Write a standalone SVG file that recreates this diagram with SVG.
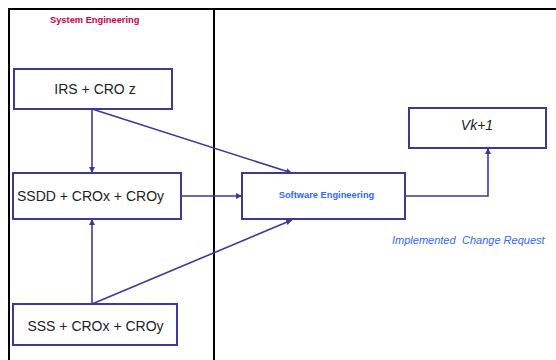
<svg xmlns="http://www.w3.org/2000/svg" width="556" height="360" viewBox="0 0 556 360">
  <style>
    .frame { stroke: #000; stroke-width: 2; fill: none; }
    .box { fill: #fff; stroke: #3a3a9a; stroke-width: 2; }
    .link { fill: none; stroke: #3a3a9a; stroke-width: 1.6; marker-end: url(#arrow); }
    .label { font-family: "Liberation Sans", Arial, sans-serif; font-size: 14px; fill: #222; }
    .title { font-family: "Liberation Sans", Arial, sans-serif; font-size: 9.3px; font-weight: bold; }
  </style>
  <defs>
    <marker id="arrow" markerUnits="userSpaceOnUse" markerWidth="7" markerHeight="6" refX="6" refY="3" orient="auto">
      <path d="M0,0 L6,3 L0,6 z" fill="#3a3a9a"/>
    </marker>
  </defs>
  <rect width="556" height="360" fill="#fff"/>

  <!-- swimlane frame -->
  <g id="lanes">
    <path class="frame" d="M9,360 V9 H556"/>
    <path class="frame" d="M214,9 V360"/>
    <text class="title" x="50" y="23" fill="#cc0044">System Engineering</text>
  </g>

  <!-- connectors -->
  <g id="connectors">
    <path class="link" d="M92,109 V173"/>
    <path class="link" d="M92,109 L292,173"/>
    <path class="link" d="M181,196 H242"/>
    <path class="link" d="M92,304 V219"/>
    <path class="link" d="M92,304 L292,220"/>
    <path class="link" d="M405,196 H488 V148"/>
  </g>

  <g id="irs">
    <rect class="box" x="14" y="69" width="158" height="40"/>
    <text class="label" x="95" y="94" text-anchor="middle">IRS + CRO z</text>
  </g>

  <g id="ssdd">
    <rect class="box" x="13" y="173" width="168" height="46"/>
    <text class="label" x="17" y="201">SSDD + CROx + CROy</text>
  </g>

  <g id="sss">
    <rect class="box" x="13" y="304" width="164" height="41"/>
    <text class="label" x="95.5" y="331" text-anchor="middle">SSS + CROx + CROy</text>
  </g>

  <g id="software">
    <rect class="box" x="242" y="173" width="163" height="46"/>
    <text class="title" x="326.5" y="198" text-anchor="middle" fill="#3366ff">Software Engineering</text>
  </g>

  <g id="vk1">
    <rect class="box" x="409" y="108" width="137" height="40"/>
    <text class="label" x="477" y="130" text-anchor="middle" font-style="italic">Vk+1</text>
  </g>

  <g id="implemented">
    <text font-family="Liberation Sans, Arial, sans-serif" font-size="11" font-style="italic" fill="#3366ff" y="244"><tspan x="392">Implemented</tspan><tspan x="462">Change Request</tspan></text>
  </g>
</svg>
